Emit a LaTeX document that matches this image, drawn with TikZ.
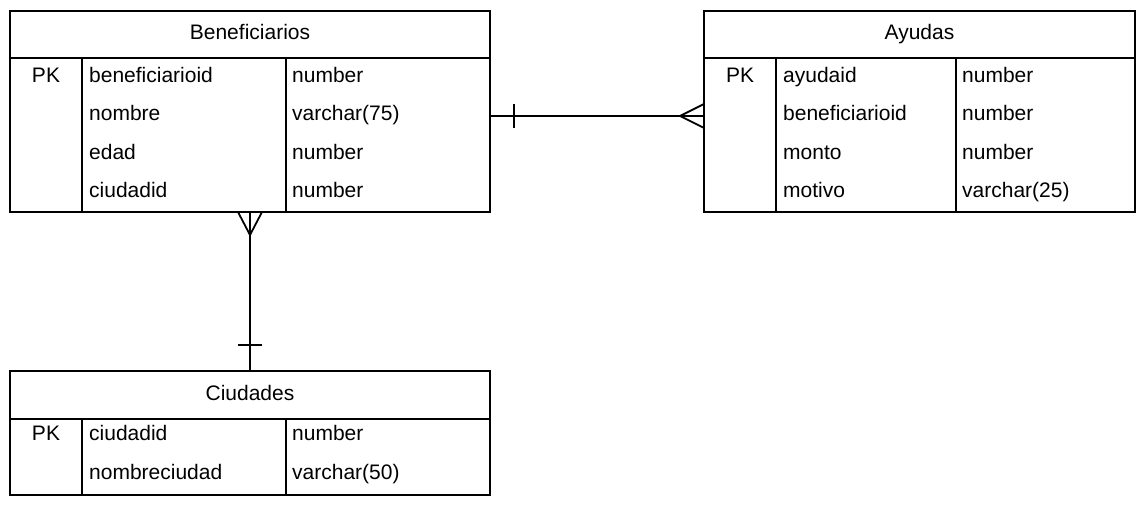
\documentclass[tikz,border=0pt]{standalone}
\usepackage{fontspec}
\setmainfont{Liberation Sans}
\usetikzlibrary{positioning}

\begin{document}
\begin{tikzpicture}[x=1pt,y=1pt,
    every node/.style={font=\fontsize{21pt}{25pt}\selectfont},
    tablehead/.style={rectangle,draw,line width=1.8pt,inner sep=0pt,outer sep=0pt,minimum height=47pt,text height=11pt,text depth=0pt},
    tablebody/.style={rectangle,draw,line width=1.8pt,inner sep=0pt,outer sep=0pt},
    field/.style={inner sep=0pt,anchor=base west},
    pk/.style={inner sep=0pt,anchor=base},
    divider/.style={line width=1.8pt},
    rel/.style={line width=1.8pt}
]
\useasboundingbox (0,0) rectangle (1146,511);

% Tables
\node[tablehead,minimum width=480pt] (benef) at (250,476.5) {Beneficiarios};
\node[tablebody,minimum width=480pt,minimum height=154pt,below=0pt of benef] (benefbody) {};
\node[tablehead,minimum width=431pt,right=214pt of benef] (ayuda) {Ayudas};
\node[tablebody,minimum width=431pt,minimum height=154pt,below=0pt of ayuda] (ayudabody) {};
\node[tablehead,minimum width=480pt,minimum height=48pt,below=159pt of benefbody] (ciudad) {Ciudades};
\node[tablebody,minimum width=480pt,minimum height=76pt,below=0pt of ciudad] (ciudadbody) {};

% Column dividers
\draw[divider] ([xshift=72pt]benefbody.north west) -- ([xshift=72pt]benefbody.south west);
\draw[divider] ([xshift=276pt]benefbody.north west) -- ([xshift=276pt]benefbody.south west);
\draw[divider] ([xshift=72pt]ayudabody.north west) -- ([xshift=72pt]ayudabody.south west);
\draw[divider] ([xshift=252pt]ayudabody.north west) -- ([xshift=252pt]ayudabody.south west);
\draw[divider] ([xshift=72pt]ciudadbody.north west) -- ([xshift=72pt]ciudadbody.south west);
\draw[divider] ([xshift=276pt]ciudadbody.north west) -- ([xshift=276pt]ciudadbody.south west);

% Beneficiarios fields
\node[pk] (benefpk) at ([xshift=36pt,yshift=-24.5pt]benefbody.north west) {PK};
\node[field] (benefid) at ([xshift=79pt,yshift=-24.5pt]benefbody.north west) {beneficiarioid};
\node[field] (benefidt) at ([xshift=282pt,yshift=-24.5pt]benefbody.north west) {number};
\node[field] (benefnom) at ([xshift=79pt,yshift=-63pt]benefbody.north west) {nombre};
\node[field] (benefnomt) at ([xshift=282pt,yshift=-63pt]benefbody.north west) {varchar(75)};
\node[field] (benefedad) at ([xshift=79pt,yshift=-101.5pt]benefbody.north west) {edad};
\node[field] (benefedadt) at ([xshift=282pt,yshift=-101.5pt]benefbody.north west) {number};
\node[field] (benefciu) at ([xshift=79pt,yshift=-140pt]benefbody.north west) {ciudadid};
\node[field] (benefciut) at ([xshift=282pt,yshift=-140pt]benefbody.north west) {number};

% Ayudas fields
\node[pk] (ayudapk) at ([xshift=36pt,yshift=-24.5pt]ayudabody.north west) {PK};
\node[field] (ayudaid) at ([xshift=79pt,yshift=-24.5pt]ayudabody.north west) {ayudaid};
\node[field] (ayudaidt) at ([xshift=258pt,yshift=-24.5pt]ayudabody.north west) {number};
\node[field] (ayudaben) at ([xshift=79pt,yshift=-63pt]ayudabody.north west) {beneficiarioid};
\node[field] (ayudabent) at ([xshift=258pt,yshift=-63pt]ayudabody.north west) {number};
\node[field] (ayudamon) at ([xshift=79pt,yshift=-101.5pt]ayudabody.north west) {monto};
\node[field] (ayudamont) at ([xshift=258pt,yshift=-101.5pt]ayudabody.north west) {number};
\node[field] (ayudamot) at ([xshift=79pt,yshift=-140pt]ayudabody.north west) {motivo};
\node[field] (ayudamott) at ([xshift=258pt,yshift=-140pt]ayudabody.north west) {varchar(25)};

% Ciudades fields
\node[pk] (ciudadpk) at ([xshift=36pt,yshift=-22pt]ciudadbody.north west) {PK};
\node[field] (ciudadid) at ([xshift=79pt,yshift=-22pt]ciudadbody.north west) {ciudadid};
\node[field] (ciudadidt) at ([xshift=282pt,yshift=-22pt]ciudadbody.north west) {number};
\node[field] (ciudadnom) at ([xshift=79pt,yshift=-61pt]ciudadbody.north west) {nombreciudad};
\node[field] (ciudadnomt) at ([xshift=282pt,yshift=-61pt]ciudadbody.north west) {varchar(50)};

% Beneficiarios to Ayudas (one to many)
\draw[rel] ([yshift=19pt]benefbody.east) -- ([yshift=19pt]ayudabody.west);
\draw[rel] ([xshift=24pt,yshift=31pt]benefbody.east) -- ++(0,-24);
\draw[rel] ([yshift=31pt]ayudabody.west) -- ++(-24,-12) -- ++(24,-12);

% Ciudades to Beneficiarios (one to many)
\draw[rel] (benefbody.south) -- (ciudad.north);
\draw[rel] ([xshift=-12pt]benefbody.south) -- ++(12,-23) -- ++(12,23);
\draw[rel] ([xshift=-12pt,yshift=26pt]ciudad.north) -- ++(24,0);

\end{tikzpicture}
\end{document}
